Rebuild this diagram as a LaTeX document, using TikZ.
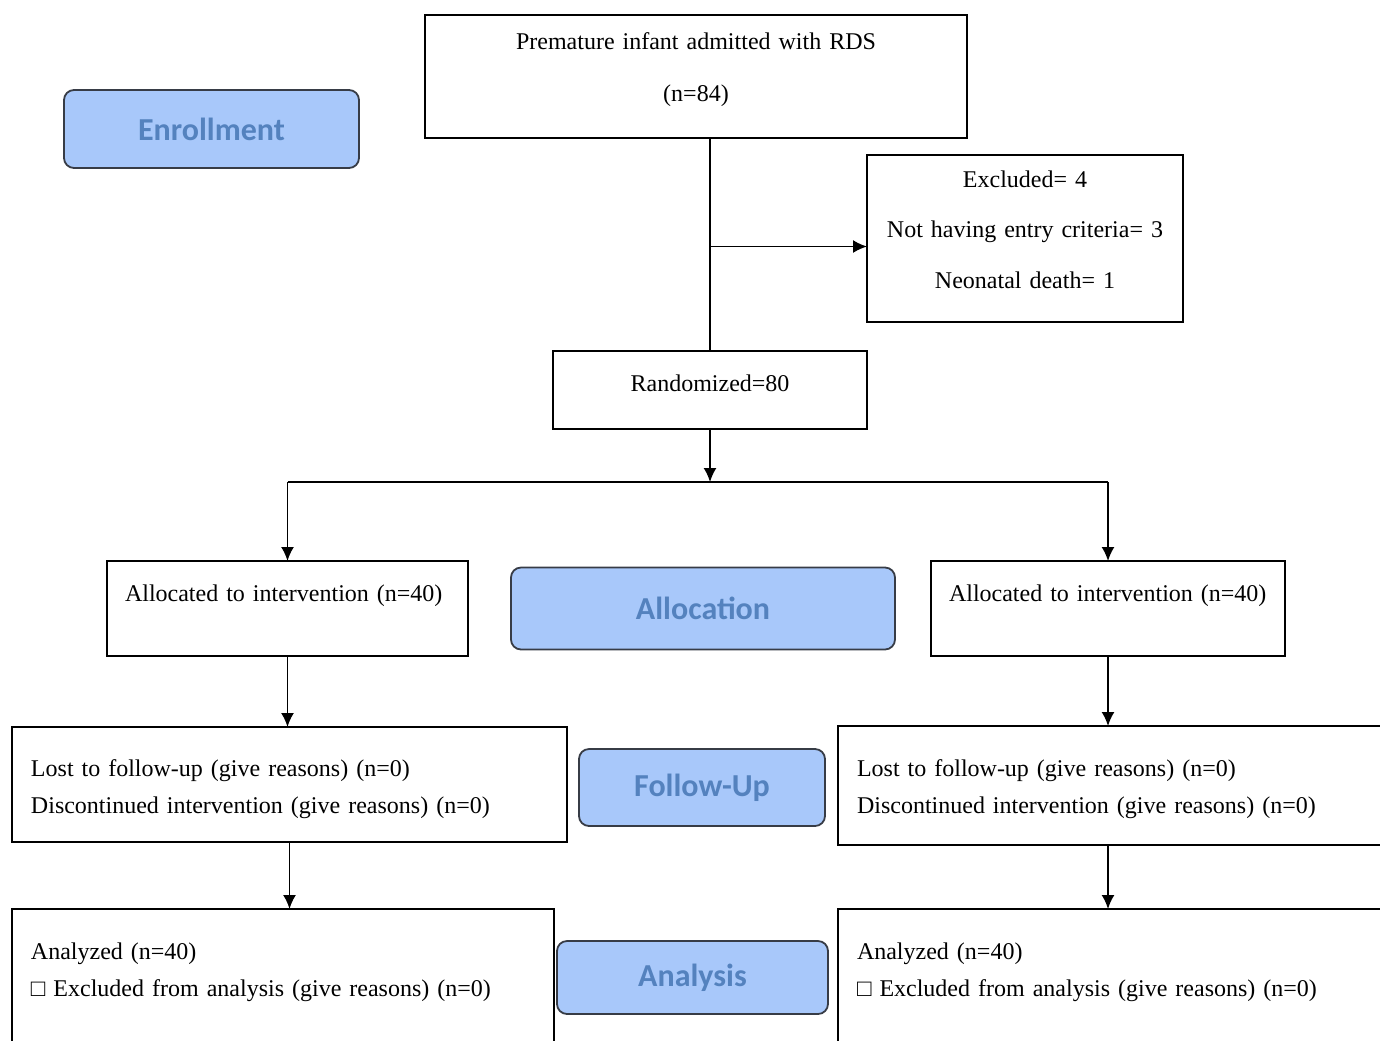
\documentclass[tikz,border=0pt]{standalone}
\usepackage{fontspec}
\setmainfont{Liberation Serif}
\newfontfamily\phasefont{Carlito}
\usetikzlibrary{positioning,arrows.meta}

\definecolor{phasefill}{RGB}{168,200,250}
\definecolor{phasetext}{RGB}{84,130,190}
\definecolor{phaseline}{RGB}{55,60,70}

\begin{document}
\begin{tikzpicture}
  [
  line width=0.9pt,
  >={Latex[length=7pt,width=6.5pt]},
  flow box/.style={draw, inner sep=0pt, outer sep=0pt, align=center,
    text width=#1, font=\fontsize{12}{18.5}\selectfont},
  left box/.style={flow box=#1, align=left, inner xsep=9.5pt},
  phase/.style={draw=phaseline, fill=phasefill, text=phasetext,
    rounded corners=5pt, inner sep=0pt, outer sep=0pt,
    font=\phasefont\bfseries\fontsize{16}{19}\selectfont}
  ]
  \useasboundingbox (0,0) rectangle (690pt,-520pt);

  \node (intake) [flow box=271pt, text height=17pt, text depth=44.5pt]
    at (348pt,-38.25pt) {Premature infant admitted with RDS\\[7.5pt](n=84)};
  \node (enroll) [left=33pt of intake, yshift=-26.25pt, phase,
    minimum width=147.5pt, minimum height=39pt] {Enrollment};
  \node (excl) [below=8.5pt of intake, xshift=164.5pt, flow box=158pt,
    text height=16pt, text depth=67.5pt]
    {Excluded= 4\\[6.75pt]Not having entry criteria= 3\\[6.75pt]Neonatal death= 1};
  \node (rand) [below=106.5pt of intake, xshift=7pt, flow box=157pt,
    text height=20pt, text depth=19pt] {Randomized=80};

  % Allocation
  \node (allocL) [below=66pt of rand, xshift=-211.25pt, left box=162.5pt,
    inner xsep=9pt, text height=20pt, text depth=27.5pt]
    {Allocated to intervention (n=40)};
  \node (allocation) [right=21.5pt of allocL, phase,
    minimum width=192pt, minimum height=41pt] {Allocation};
  \node (allocR) [right=18pt of allocation, left box=159pt,
    inner xsep=9pt, text height=20pt, text depth=27.5pt]
    {Allocated to intervention (n=40)};

  % Follow-up
  \node (lostL) [below=35.5pt of allocL, xshift=1pt, left box=258.5pt,
    text height=24.5pt, text depth=33pt]
    {Lost to follow-up (give reasons) (n=0)\\Discontinued intervention (give reasons) (n=0)};
  \node (follow) [right=6pt of lostL, yshift=-1.5pt, phase,
    minimum width=123pt, minimum height=38.5pt] {Follow-Up};
  \node (lostR) [below=35pt of allocR, xshift=2pt, left box=255pt,
    text height=25pt, text depth=34.5pt]
    {Lost to follow-up (give reasons) (n=0)\\Discontinued intervention (give reasons) (n=0)};

  % Analysis
  \node (analL) [below=33.5pt of lostL, xshift=-3.25pt, left box=252pt,
    text height=25pt, text depth=50pt]
    {Analyzed (n=40)\\□ Excluded from analysis (give reasons) (n=0)};
  \node (analysis) [right=1.5pt of analL, yshift=3.25pt, phase,
    minimum width=135.5pt, minimum height=36.5pt] {Analysis};
  \node (analR) [below=32pt of lostR, left box=255pt,
    text height=25pt, text depth=50pt]
    {Analyzed (n=40)\\□ Excluded from analysis (give reasons) (n=0)};

  \draw (intake.south -| rand.north) -- (rand.north);
  \coordinate (exclin) at ([yshift=-4pt]excl.west);
  \draw [->] (rand.north |- exclin) -- (exclin);
  \coordinate [below=26.5pt of rand] (split);
  \draw [->] (rand) -- (split);
  \draw (split -| allocL.north) -- (split -| allocR.north);
  \foreach \j in {allocL,allocR}
    \draw [->] (split -| \j.north) -- (\j.north);
  \foreach \i/\j in {allocL/lostL,lostL/analL,allocR/lostR}
    \draw [->] (\i.south) -- (\i.south |- \j.north);
  \draw [->] (allocR.south |- lostR.south) -- (allocR.south |- analR.north);
\end{tikzpicture}
\end{document}
